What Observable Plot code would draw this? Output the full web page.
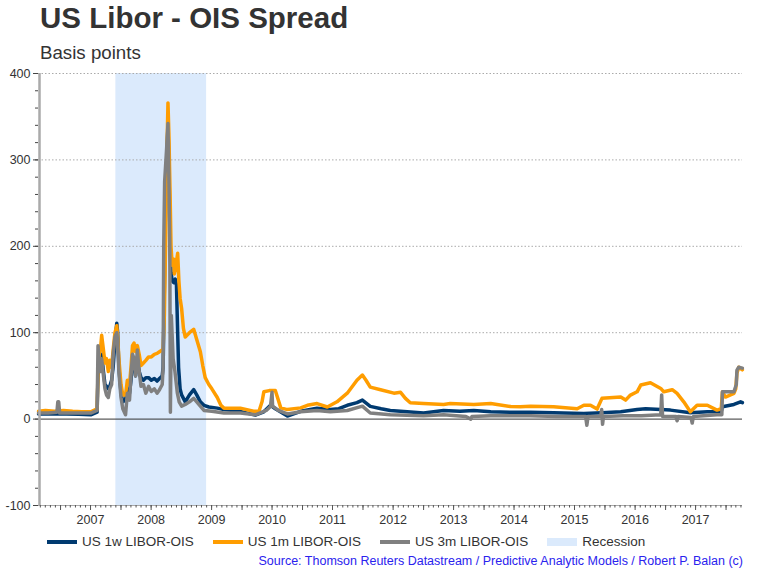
<!DOCTYPE html>
<html>
<head>
<meta charset="utf-8">
<script src="https://cdn.jsdelivr.net/npm/d3@7"></script>
<script src="https://cdn.jsdelivr.net/npm/@observablehq/plot@0.6"></script>
<style>
  body { margin: 0; background: #fff; font-family: "Liberation Sans", Arial, sans-serif; }
  #wrap { position: relative; width: 765px; height: 572px; overflow: hidden; }
  #title { position: absolute; left: 40px; top: 3px; font-size: 29.5px; line-height: 1; font-weight: bold; color: #333; white-space: nowrap; }
  #subtitle { position: absolute; left: 40px; top: 44px; font-size: 18.7px; line-height: 1; color: #333; white-space: nowrap; }
  #chart { position: absolute; left: 0; top: 63px; }
  #legend { position: absolute; left: 47px; top: 535px; display: flex; align-items: center; font-size: 13.5px; line-height: 1; color: #333; white-space: nowrap; }
  .item { display: flex; align-items: center; margin-right: 19px; }
  .sw { display: inline-block; width: 30px; height: 4px; margin-right: 5px; }
  .swr { height: 8px; }
  #source { position: absolute; right: 22px; top: 555px; font-size: 12.5px; line-height: 1; color: #2a22ee; white-space: nowrap; }
</style>
</head>
<body>
<div id="wrap">
  <div id="title">US Libor - OIS Spread</div>
  <div id="subtitle">Basis points</div>
  <div id="chart"></div>
  <div id="legend"></div>
  <div id="source">Source: Thomson Reuters Datastream / Predictive Analytic Models / Robert P. Balan (c)</div>
</div>
<script>
// ---- data (decimal year, basis points) ----
const seriesNames = ["US 1w LIBOR-OIS", "US 1m LIBOR-OIS", "US 3m LIBOR-OIS"];
const seriesColors = ["#003a70", "#ff9d00", "#808080"];
const recessionLabel = "Recession";
const recessionColor = "#dbeafc";
const recession = ["2007-12-01", "2009-06-01"];
const yearLabels = [2007, 2008, 2009, 2010, 2011, 2012, 2013, 2014, 2015, 2016, 2017];
const yTicks = [-100, 0, 100, 200, 300, 400];

const us1w = [[2006.636,6],[2006.8,6],[2006.95,6],[2007.1,6],[2007.3,5.5],[2007.5,5],[2007.605,8],[2007.62,50],[2007.64,70],[2007.66,60],[2007.68,75],[2007.71,55],[2007.735,40],[2007.76,38],[2007.79,35],[2007.815,38],[2007.845,45],[2007.87,60],[2007.9,90],[2007.93,111],[2007.945,100],[2007.965,60],[2008.0,30],[2008.03,20],[2008.075,22],[2008.105,35],[2008.14,30],[2008.165,45],[2008.19,70],[2008.215,65],[2008.24,50],[2008.27,70],[2008.3,55],[2008.33,48],[2008.37,45],[2008.41,48],[2008.455,48],[2008.5,45],[2008.55,47],[2008.595,44],[2008.635,47],[2008.68,50],[2008.695,60],[2008.715,150],[2008.735,250],[2008.755,300],[2008.775,340],[2008.79,300],[2008.81,200],[2008.825,170],[2008.845,160],[2008.87,158],[2008.895,162],[2008.915,155],[2008.935,100],[2008.95,60],[2008.975,35],[2009.0,28],[2009.06,20],[2009.13,28],[2009.2,34],[2009.25,28],[2009.31,20],[2009.37,16],[2009.45,14],[2009.59,12.7],[2009.7,11],[2009.97,9],[2010.22,4.6],[2010.35,8],[2010.47,16],[2010.55,12],[2010.75,3.5],[2010.97,9],[2011.24,12.7],[2011.46,11],[2011.6,12],[2011.74,16],[2011.9,19],[2011.99,22],[2012.12,14.7],[2012.3,12],[2012.45,10],[2012.73,8.5],[2013.0,7],[2013.33,10],[2013.6,9],[2013.83,10],[2014.11,8.5],[2014.44,8],[2014.77,8],[2015.15,7.3],[2015.65,6.6],[2015.95,7.3],[2016.26,8.5],[2016.53,11.2],[2016.67,12],[2016.92,11],[2017.08,10.4],[2017.41,7.3],[2017.69,8.5],[2017.92,8.5],[2017.94,14.3],[2018.13,17],[2018.24,20],[2018.27,19]];

const us1m = [[2006.636,9],[2006.75,10],[2006.9,9],[2007.05,10],[2007.2,9],[2007.35,8.5],[2007.5,8.5],[2007.605,12],[2007.62,55],[2007.64,75],[2007.66,80],[2007.68,97],[2007.71,80],[2007.735,65],[2007.76,70],[2007.79,55],[2007.815,68],[2007.845,60],[2007.87,80],[2007.9,100],[2007.93,108],[2007.945,95],[2007.965,70],[2008.0,40],[2008.03,28],[2008.075,28],[2008.105,45],[2008.14,40],[2008.165,60],[2008.19,85],[2008.215,88],[2008.24,78],[2008.27,85],[2008.3,75],[2008.33,62],[2008.37,65],[2008.41,68],[2008.455,72],[2008.5,72],[2008.55,75],[2008.595,76],[2008.635,78],[2008.68,80],[2008.695,82],[2008.715,120],[2008.735,200],[2008.755,300],[2008.775,366],[2008.79,330],[2008.81,260],[2008.825,200],[2008.845,178],[2008.87,185],[2008.88,168],[2008.9,175],[2008.935,192],[2008.955,160],[2008.975,140],[2009.0,128],[2009.03,105],[2009.06,95],[2009.13,100],[2009.2,104],[2009.25,92],[2009.31,78],[2009.35,62],[2009.39,48],[2009.45,40],[2009.5,35],[2009.59,25],[2009.65,16],[2009.7,12.7],[2009.97,12.7],[2010.19,9],[2010.28,9],[2010.33,20],[2010.36,31.6],[2010.45,33],[2010.55,33],[2010.64,13],[2010.75,11],[2010.97,13],[2011.08,16],[2011.24,18],[2011.41,14],[2011.57,20],[2011.74,30],[2011.9,45],[2011.99,51],[2012.05,45],[2012.12,37],[2012.29,34],[2012.51,30],[2012.62,31],[2012.7,24],[2012.78,19],[2013.0,18],[2013.33,17],[2013.44,18],[2013.83,17],[2014.11,18],[2014.44,14.5],[2014.6,14.3],[2014.77,15],[2015.15,14.3],[2015.54,12],[2015.65,16],[2015.76,16],[2015.87,11.6],[2015.95,24],[2016.26,25.5],[2016.34,22],[2016.42,27.8],[2016.53,31.6],[2016.59,39.4],[2016.75,42],[2016.92,35.5],[2016.97,31.6],[2017.11,34],[2017.19,29.7],[2017.3,20],[2017.41,8.5],[2017.52,16],[2017.69,16],[2017.85,10.4],[2017.92,12],[2017.94,31.6],[2017.99,25.5],[2018.13,29.7],[2018.16,35],[2018.18,53],[2018.21,60],[2018.27,57]];

const us3m = [[2006.636,7],[2006.8,7],[2006.94,8],[2006.955,20],[2006.97,20],[2006.985,7],[2007.1,7],[2007.3,7],[2007.5,7],[2007.605,10],[2007.62,85],[2007.64,60],[2007.66,55],[2007.68,70],[2007.71,50],[2007.735,35],[2007.76,28],[2007.79,25],[2007.815,35],[2007.845,40],[2007.87,75],[2007.9,95],[2007.93,100],[2007.945,90],[2007.965,55],[2008.0,25],[2008.03,12],[2008.075,5],[2008.105,30],[2008.14,22],[2008.165,50],[2008.19,75],[2008.215,70],[2008.24,50],[2008.27,80],[2008.3,55],[2008.33,38],[2008.37,40],[2008.41,30],[2008.455,38],[2008.5,32],[2008.55,35],[2008.595,30],[2008.635,34],[2008.68,40],[2008.695,60],[2008.705,200],[2008.72,275],[2008.75,310],[2008.775,342],[2008.79,280],[2008.805,200],[2008.815,8],[2008.83,120],[2008.86,70],[2008.89,55],[2008.93,30],[2008.96,20],[2009.0,15],[2009.06,17],[2009.13,20],[2009.2,24],[2009.25,20],[2009.31,15],[2009.37,10],[2009.5,9],[2009.7,7],[2009.97,7],[2010.22,5],[2010.4,10],[2010.47,14.7],[2010.495,31],[2010.505,15],[2010.6,10],[2010.75,6],[2010.97,8.5],[2011.24,10],[2011.46,8.5],[2011.74,10],[2011.99,15],[2012.12,7],[2012.45,5],[2013.0,4],[2013.33,5],[2013.7,3],[2013.78,0],[2013.8,3],[2014.11,4],[2014.77,4],[2015.2,3],[2015.68,3],[2015.7,-7],[2015.72,3],[2015.93,3],[2015.945,11],[2015.96,-6],[2015.975,3],[2016.3,4],[2016.6,4],[2016.92,5],[2016.935,28],[2016.95,3],[2017.17,3],[2017.19,-2],[2017.21,3],[2017.42,2],[2017.44,-4.6],[2017.46,3],[2017.85,5],[2017.93,5],[2017.94,31.6],[2018.13,31.6],[2018.17,40],[2018.18,56.7],[2018.21,60],[2018.27,59]];

// ---- helpers ----
function yr(t) {
  const y = Math.floor(t);
  const s = Date.UTC(y, 0, 1), e = Date.UTC(y + 1, 0, 1);
  return new Date(s + (t - y) * (e - s));
}
const xDomain = [yr(2006.6355), yr(2018.272)];
const toRows = (arr) => arr.map(([t, v]) => ({date: yr(t), value: v}));

const monthTicks = d3.utcMonth.range(xDomain[0], xDomain[1]);
const halfYearTicks = monthTicks.filter(d => d.getUTCMonth() % 6 === 0);
const labelTicks = yearLabels.map(y => new Date(Date.UTC(y, 6, 1)));

const chart = Plot.plot({
  width: 765,
  height: 467,
  marginTop: 10,
  marginLeft: 38,
  marginRight: 23,
  marginBottom: 25,
  style: {fontFamily: '"Liberation Sans", Arial, sans-serif', color: "#333", background: "transparent"},
  x: {type: "utc", domain: xDomain, label: null},
  y: {domain: [-100, 400], label: null},
  marks: [
    Plot.rect([{a: new Date(recession[0]), b: new Date(recession[1])}], {x1: "a", x2: "b", y1: -100, y2: 400, fill: recessionColor}),
    Plot.gridY(yTicks.filter(d => d > 0), {stroke: "#aaa", strokeOpacity: 1, strokeDasharray: "1.5,2"}),
    Plot.ruleY([-100], {stroke: "#aaa", strokeWidth: 1}),
    Plot.axisX({ticks: monthTicks, tickSize: 2.5, text: null, stroke: "#555", label: null}),
    Plot.axisX({ticks: halfYearTicks, tickSize: 5, text: null, stroke: "#555", label: null}),
    Plot.axisX({ticks: labelTicks, tickSize: 0, tickPadding: 10, tickFormat: d3.utcFormat("%Y"), fontSize: 12.5, fill: "#333", label: null}),
    Plot.ruleY([0], {stroke: "#333", strokeWidth: 1}),
    Plot.line(toRows(us1w), {x: "date", y: "value", stroke: seriesColors[0], strokeWidth: 3.5}),
    Plot.line(toRows(us1m), {x: "date", y: "value", stroke: seriesColors[1], strokeWidth: 3.5}),
    Plot.line(toRows(us3m), {x: "date", y: "value", stroke: seriesColors[2], strokeWidth: 3.5}),
    Plot.ruleX([xDomain[0]], {y1: -100, y2: 400, stroke: "#aaa", strokeWidth: 2.5, dx: 1}),
    Plot.axisY({ticks: d3.range(-100, 401, 20), tickSize: 3, text: null, stroke: "#444", label: null}),
    Plot.axisY({ticks: yTicks, tickSize: 5, tickPadding: 3, tickFormat: d => String(d), fontSize: 12.5, fill: "#333", stroke: "#444", label: null})
  ]
});
document.getElementById("chart").appendChild(chart);

// legend
const legend = document.getElementById("legend");
seriesNames.forEach((name, i) => {
  const it = document.createElement("span");
  it.className = "item";
  it.innerHTML = `<span class="sw" style="background:${seriesColors[i]}"></span>${name}`;
  legend.appendChild(it);
});
const rec = document.createElement("span");
rec.className = "item";
rec.innerHTML = `<span class="sw swr" style="background:${recessionColor}"></span>${recessionLabel}`;
legend.appendChild(rec);
</script>
</body>
</html>
